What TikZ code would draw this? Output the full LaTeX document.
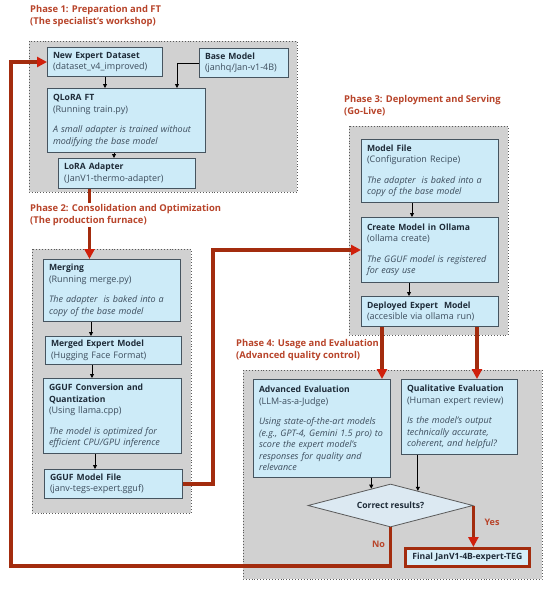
\documentclass[tikz,border=0pt]{standalone}
\usepackage{fontspec}
\setmainfont{Open Sans}
\usetikzlibrary{arrows.meta,shapes.geometric,calc}
\definecolor{boxfill}{HTML}{CDEBF8}
\definecolor{boxline}{HTML}{46545F}
\definecolor{grayfill}{HTML}{D1D1D1}
\definecolor{grayline}{HTML}{5A5A5A}
\definecolor{redline}{HTML}{A32C0E}
\definecolor{redhead}{HTML}{D0200C}
\definecolor{phasecol}{HTML}{B8442A}
\definecolor{titlecol}{HTML}{1E2B38}
\definecolor{subcol}{HTML}{3C4C5C}
\definecolor{decfill}{HTML}{DCE9F2}
\definecolor{finalfill}{HTML}{D6EEF8}
\newcommand{\bt}[1]{{\fontsize{8.6}{11.5}\selectfont\bfseries\color{titlecol}#1}}
\newcommand{\il}[1]{\mbox{\itshape #1}}
\begin{document}
\begin{tikzpicture}[x=1pt,y=-1pt,
  phasebox/.style={draw=grayline, fill=grayfill, dotted, line width=0.9pt},
  box/.style={draw=boxline, fill=boxfill, line width=1pt, anchor=north west,
    inner xsep=5.5pt, inner ysep=0pt, align=left, text=subcol,
    font=\fontsize{9}{11.5}\selectfont},
  phasetitle/.style={anchor=north west, fill=white, inner sep=1pt, align=left,
    text=phasecol, font=\bfseries\fontsize{9.4}{12.5}\selectfont},
  blk/.style={draw=black, line width=0.8pt, -{Triangle[width=4pt,length=4pt]}},
  redarr/.style={draw=redline, line width=3.5pt, line join=miter,
    -{Triangle[width=10pt,length=10pt,fill=redhead,color=redhead]}},
  lbl/.style={text=phasecol, font=\bfseries\fontsize{9}{10}\selectfont, inner sep=1pt}
]
\useasboundingbox (0,0) rectangle (550,589);
\fill[white] (0,0) rectangle (550,589);

% containers
\draw[phasebox] (29,41) rectangle (297,192);
\draw[phasebox] (32,249) rectangle (191,513);
\draw[phasebox] (349,126) rectangle (508,335);
\draw[phasebox] (243,370) rectangle (542,579);

% Phase 1 boxes
\node[box, minimum width=115pt, minimum height=29pt, text width=104pt] (ds) at (47,47)
  {\bt{New Expert Dataset}\\\mbox{(dataset\_v4\_improved)}};
\node[box, minimum width=89pt, minimum height=29pt, text width=78pt] (base) at (199,48)
  {\bt{Base Model}\\\mbox{(janhq/Jan-v1-4B)}};
\node[box, minimum width=158pt, minimum height=64pt, text width=147pt] (qlora) at (47,88)
  {\bt{QLoRA FT}\\(Running train.py)\\[9pt]\il{A small adapter is trained without}\\\il{modifying the base model}};
\node[box, minimum width=137pt, minimum height=30pt, text width=126pt] (lora) at (58,158)
  {\bt{LoRA Adapter}\\\mbox{(JanV1-thermo-adapter)}};

% Phase 2 boxes
\node[box, minimum width=137pt, minimum height=62pt, text width=126pt] (merge) at (43,259)
  {\bt{Merging}\\(Running merge.py)\\[9pt]\il{The adapter\ \ is baked into a}\\\il{copy of the base model}};
\node[box, minimum width=136pt, minimum height=28pt, text width=125pt] (merged) at (45,336)
  {\bt{Merged Expert Model}\\\mbox{(Hugging Face Format)}};
\node[box, minimum width=138pt, minimum height=75pt, text width=127pt] (gguf) at (43,378)
  {\bt{GGUF Conversion and}\\\bt{Quantization}\\(Using llama.cpp)\\[9pt]\il{The model is optimized for}\\\il{efficient CPU/GPU inference}};
\node[box, minimum width=138pt, minimum height=29pt, text width=127pt] (gfile) at (44,469)
  {\bt{GGUF Model File}\\\mbox{(janv-tegs-expert.gguf)}};

% Phase 3 boxes
\node[box, minimum width=137pt, minimum height=63pt, text width=126pt] (mfile) at (361,139)
  {\bt{Model File}\\(Configuration Recipe)\\[9pt]\il{The adapter\ \ is baked into a}\\\il{copy of the base model}};
\node[box, minimum width=137pt, minimum height=65pt, text width=126pt] (create) at (361,217)
  {\bt{Create Model in Ollama}\\(ollama create)\\[9pt]\il{The GGUF model is registered}\\\il{for easy use}};
\node[box, minimum width=137pt, minimum height=30pt, text width=126pt] (deploy) at (361,296)
  {\bt{Deployed Expert\ \ Model}\\\mbox{(accesible via ollama run)}};

% Phase 4 boxes
\node[box, minimum width=137pt, minimum height=98pt, text width=126pt] (adv) at (253,379)
  {\bt{Advanced Evaluation}\\(LLM-as-a-Judge)\\[9pt]\il{Using state-of-the-art models}\\\il{(e.g., GPT-4, Gemini 1.5 pro) to}\\\il{score the expert model’s}\\\il{responses for quality and}\\\il{relevance}};
\node[box, minimum width=116pt, minimum height=75pt, text width=105pt] (qual) at (401,379)
  {\bt{Qualitative Evaluation}\\\mbox{(Human expert review)}\\[9pt]\il{Is the model’s output}\\\il{technically accurate,}\\\il{coherent, and helpful?}};
\node[diamond, draw=grayline, fill=decfill, line width=0.8pt, minimum width=165pt,
  minimum height=43pt, aspect=3.8, inner sep=0pt, text=titlecol,
  font=\bfseries\fontsize{8.6}{10}\selectfont] (dec) at (390.5,505.5) {Correct results?};
\node[draw=redline, line width=2.5pt, fill=finalfill, anchor=north west,
  minimum width=124pt, minimum height=18pt, inner sep=0pt, text=titlecol,
  font=\bfseries\fontsize{8.6}{10}\selectfont] (final) at (404,547) {Final JanV1-4B-expert-TEG};

% helper coordinates
\coordinate (bq) at (177,0);
\coordinate (ql) at (114,0);
\coordinate (lx) at (89.5,0);
\coordinate (m1) at (91,0);
\coordinate (m2) at (92,0);
\coordinate (m3) at (95,0);
\coordinate (fx) at (213,0);
\coordinate (c1) at (412,0);
\coordinate (c2) at (409,0);
\coordinate (r1) at (382,0);
\coordinate (r2) at (477,0);
\coordinate (nl) at (11,566);
\path (dec.north) -- (dec.west) coordinate[pos=0.232] (decA);
\path (dec.north) -- (dec.east) coordinate[pos=0.33] (decB);

% black connectors
\draw[blk] (ds.south) -- (ds.south |- qlora.north);
\draw[blk] (base.west) -| (qlora.north -| bq);
\draw[blk] (qlora.south -| ql) -- (lora.north -| ql);
\draw[blk] (merge.south -| m1) -- (merged.north -| m1);
\draw[blk] (merged.south -| m2) -- (gguf.north -| m2);
\draw[blk] (gguf.south -| m3) -- (gfile.north -| m3);
\draw[blk] (mfile.south -| c1) -- (create.north -| c1);
\draw[blk] (create.south -| c2) -- (deploy.north -| c2);
\draw[blk] (adv.south -| decA) -- (decA);
\draw[blk] (qual.south -| decB) -- (decB);

% red connectors
\draw[redarr] (lora.south -| lx) -- (merge.north -| lx);
\draw[redarr] (gfile.east) -| (fx |- create.west) -- (create.west);
\draw[redarr] (deploy.south -| r1) -- (adv.north -| r1);
\draw[redarr] (deploy.south -| r2) -- (qual.north -| r2);
\draw[redarr] (dec.east) -- (dec.east |- final.north);
\draw[redarr] (dec.south) |- (nl) |- (ds.west);

\node[lbl] (yes) at (492,522) {Yes};
\node[lbl] (no) at (378.5,544) {No};

% titles
\node[phasetitle] (t1) at (29,4) {Phase 1: Preparation and FT\\(The specialist’s workshop)};
\node[phasetitle] (t2) at (29,203) {Phase 2: Consolidation and Optimization\\(The production furnace)};
\node[phasetitle] (t3) at (343,94) {Phase 3: Deployment and Serving\\(Go-Live)};
\node[phasetitle] (t4) at (235,338) {Phase 4: Usage and Evaluation\\(Advanced quality control)};
\end{tikzpicture}
\end{document}
